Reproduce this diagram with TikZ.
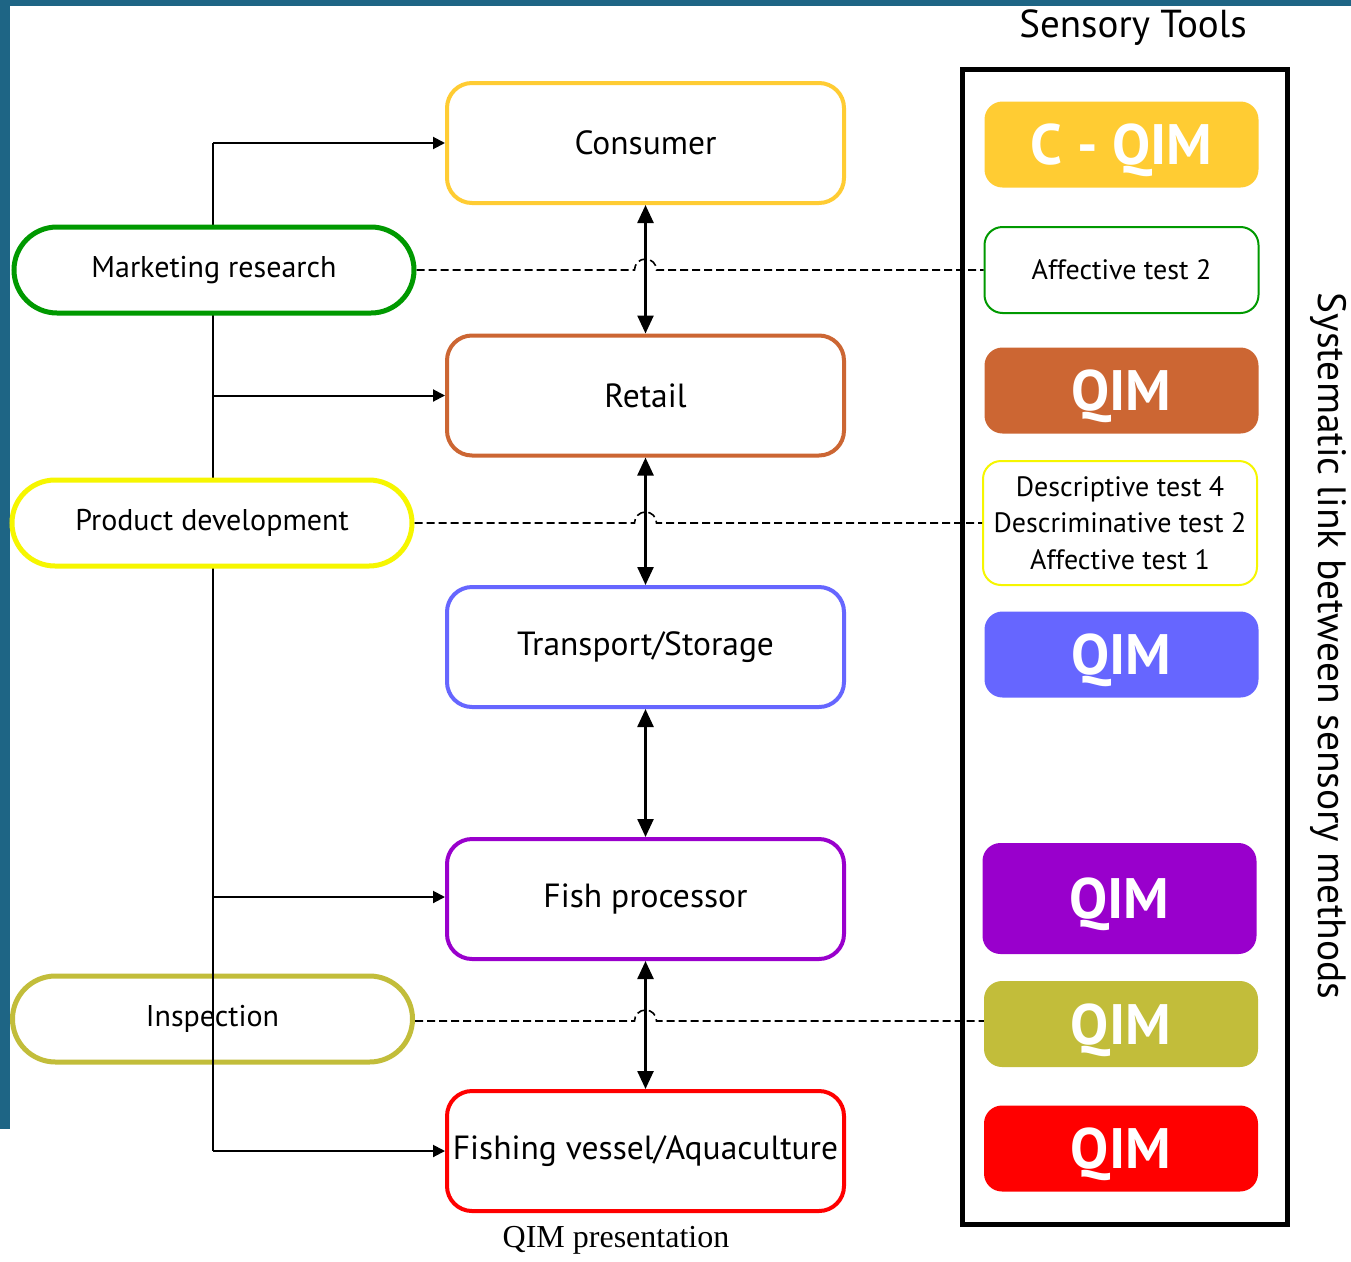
\documentclass[tikz,border=0pt]{standalone}
\usepackage{fontspec}
\setmainfont{PT Sans}
\newfontfamily\capfont{Liberation Serif}
\usetikzlibrary{arrows.meta,shapes.misc,calc}

\definecolor{strip}{HTML}{1E6585}
\definecolor{cgold}{HTML}{FFCC33}
\definecolor{corange}{HTML}{CC6633}
\definecolor{cblue}{HTML}{6666FF}
\definecolor{cpurple}{HTML}{9900CC}
\definecolor{colive}{HTML}{C2BD3A}
\definecolor{cred}{HTML}{FF0000}
\definecolor{cgreen}{HTML}{009900}
\definecolor{cyellow}{HTML}{F6F600}

\tikzset{
  stage/.style={draw, fill=white, rounded corners=25pt, line width=4pt,
    minimum width=397pt, minimum height=120pt, inner sep=0pt,
    font=\fontsize{33.5}{40}\selectfont},
  oval/.style={draw, rounded rectangle, line width=5pt,
    minimum width=400pt, minimum height=86pt, inner sep=0pt,
    font=\fontsize{30}{36}\selectfont},
  tool/.style={rounded corners=18pt, minimum width=274pt, minimum height=86pt,
    inner sep=0pt},
  qim/.style={tool, text=white, text depth=0pt,
    font=\fontsize{57}{64}\selectfont\bfseries},
  testbox/.style={tool, draw, fill=white, line width=2pt, align=center,
    font=\fontsize{28}{36.5}\selectfont},
  varrow/.style={line width=2.5pt, {Triangle[length=18pt,width=16pt]}-{Triangle[length=18pt,width=16pt]}},
  harrow/.style={line width=2pt, -{Triangle[length=12pt,width=12pt]}},
  trunk/.style={line width=2pt},
  dline/.style={line width=1.6pt, dash pattern=on 8pt off 4pt},
}

\begin{document}
\begin{tikzpicture}[x=1pt,y=1pt]
  % canvas and dark edge strips
  \fill[white] (0,0) rectangle (1351,-1261);
  \useasboundingbox (0,0) rectangle (1351,-1261);
  \fill[strip] (0,0) rectangle (1351,-6);
  \fill[strip] (0,0) rectangle (10,-1129);

  % supply chain stages
  \node[stage, draw=cgold]   (cons)  at (645.5,-143)   {Consumer};
  \node[stage, draw=corange] (ret)   at (645.5,-395.5) {Retail};
  \node[stage, draw=cblue]   (trans) at (645.5,-647)   {Transport/Storage};
  \node[stage, draw=cpurple] (proc)  at (645.5,-899)   {Fish processor};
  \node[stage, draw=cred]    (vess)  at (645.5,-1151)  {Fishing vessel/Aquaculture};

  % sensory tools frame and tools
  \node[draw, line width=5pt, minimum width=324.5pt, minimum height=1155pt,
        inner sep=0pt] (frame) at (1124.75,-647) {};
  \node[qim, fill=cgold]   (t1) at (1121.5,-144.5) {C - QIM};
  \node[testbox, draw=cgreen] (t2) at (1121.5,-270) {Affective test 2};
  \node[qim, fill=corange] (t3) at (1121.5,-390.5) {QIM};
  \node[testbox, draw=cyellow, minimum height=124pt] (t4) at (1120,-523)
       {Descriptive test 4\\Descriminative test 2\\Affective test 1};
  \node[qim, fill=cblue]   (t5) at (1121.5,-654.5) {QIM};
  \node[qim, fill=cpurple, minimum height=111pt] (t6) at (1119.5,-898.5) {QIM};
  \node[qim, fill=colive]  (t7) at (1121,-1024) {QIM};
  \node[qim, fill=cred]    (t8) at (1121,-1148.5) {QIM};

  % inspection oval sits under the trunk line
  \node[oval, draw=colive] (insp) at (212.5,-1019) {Inspection};

  % trunk and branches to the stages
  \coordinate (trTop) at (213,-143);
  \coordinate (trBot) at (213,-1151);
  \draw[trunk] (trTop) -- (trBot);
  \draw[harrow] (trTop) -- (cons.west);
  \draw[harrow] (ret.west -| trTop) -- (ret.west);
  \draw[harrow] ([yshift=2pt]proc.west -| trTop) -- ([yshift=2pt]proc.west);
  \draw[harrow] (trBot) -- (vess.west);

  % ovals that cover the trunk
  \node[oval, draw=cgreen, fill=white]  (mr) at (214,-270) {Marketing research};
  \node[oval, draw=cyellow, fill=white] (pd) at (212,-523) {Product development};

  % dashed links with jumps over the stage arrows
  \draw[dline] (mr.east) -- ([xshift=-11pt]mr.east -| cons.south)
      arc[start angle=180, end angle=0, radius=11pt] -- (t2.west);
  \draw[dline] (pd.east) -- ([xshift=-11pt]pd.east -| ret.south)
      arc[start angle=180, end angle=0, radius=11pt] -- (t4.west);
  \draw[dline] ([yshift=-2pt]insp.east) -- ([xshift=-11pt,yshift=-2pt]insp.east -| proc.south)
      arc[start angle=180, end angle=0, radius=11pt] -- ([yshift=-2pt]insp.east -| t7.west);

  % arrows between stages
  \draw[varrow] (cons.south)  -- (ret.north);
  \draw[varrow] (ret.south)   -- (trans.north);
  \draw[varrow] (trans.south) -- (proc.north);
  \draw[varrow] (proc.south)  -- (vess.north);

  % titles
  \node[font=\fontsize{39}{46}\selectfont] (title) at (1133,-28) {Sensory Tools};
  \node[rotate=-90, font=\fontsize{39.5}{46}\selectfont] (side) at (1328,-646)
       {Systematic link between sensory methods};
  \node[font=\capfont\fontsize{32}{38}\selectfont] (cap) at (616,-1240) {QIM presentation};
\end{tikzpicture}
\end{document}
